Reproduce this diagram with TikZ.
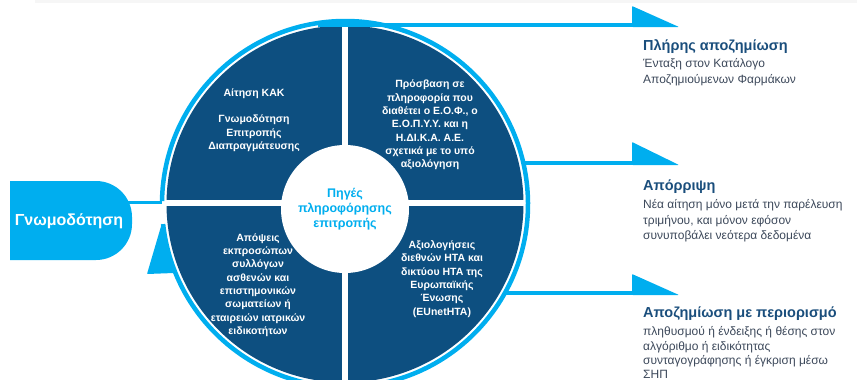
\documentclass[tikz,border=0pt]{standalone}
\usepackage{fontspec}
\setmainfont{Liberation Sans}
\definecolor{lblue}{RGB}{0,174,239}
\definecolor{dblue}{RGB}{13,79,128}
\definecolor{ttlblue}{RGB}{26,78,124}
\definecolor{desctext}{RGB}{60,72,90}
\begin{document}
\begin{tikzpicture}[x=1pt,y=-1pt,
  quadtext/.style={text=white,align=center,inner sep=0pt,font=\bfseries\fontsize{10.5}{13.3}\selectfont},
  ttl/.style={anchor=base west,inner sep=0pt,text=ttlblue,font=\bfseries\fontsize{14.5}{16}\selectfont},
  desc/.style={anchor=base west,inner sep=0pt,text=desctext,font=\fontsize{12}{14}\selectfont},
  flowline/.style={draw=lblue,line width=4pt},
  headfill/.style={fill=lblue,rounded corners=0.8pt},
  gap/.style={draw=white,line width=6pt}]
\useasboundingbox (0,0) rectangle (857,380);
\fill[gray!7] (35,0) rectangle (857,3);

\coordinate (C) at (345,204);
% dark disk
\fill[dblue] (C) circle[radius=178.5];
% white cross
\draw[gap] (345,20) -- (345,390);
\draw[gap] (160,203) -- (530,203);
% outer ring
\draw[lblue,line width=4.5pt] (C) ++(173.7:183) arc[start angle=173.7,end angle=-179.1,radius=183];
% left arrowhead on ring
\coordinate (lt) at (162,223);
\fill[lblue,rounded corners=0.8pt] (lt) -- (174,273) -- (147,274) -- cycle;

% centre circle
\node[circle,fill=white,minimum size=128pt,inner sep=0pt,text=lblue,align=center,
      font=\bfseries\fontsize{12.5}{15}\selectfont] (src) at (345,209) {Πηγές\\πληροφόρησης\\επιτροπής};

% quadrant texts
\node[quadtext] (q1) at (254,120) {Αίτηση ΚΑΚ\\[13.3pt]Γνωμοδότηση\\Επιτροπής\\Διαπραγμάτευσης};
\node[quadtext] (q2) at (430,125) {Πρόσβαση σε\\πληροφορία που\\διαθέτει ο Ε.Ο.Φ., ο\\Ε.Ο.Π.Υ.Υ. και η\\Η.ΔΙ.Κ.Α. Α.Ε.\\σχετικά με το υπό\\αξιολόγηση};
\node[quadtext] (q3) at (258,285) {Απόψεις\\εκπροσώπων\\συλλόγων\\ασθενών και\\επιστημονικών\\σωματείων ή\\εταιρειών ιατρικών\\ειδικοτήτων};
\node[quadtext] (q4) at (442,279) {Αξιολογήσεις\\διεθνών HTA και\\δικτύου HTA της\\Ευρωπαϊκής\\Ένωσης\\(EUnetHTA)};

% Gnomodotisi box
\fill[lblue] (10,181) [rounded corners=36pt] -- (132,181) -- (132,260) [sharp corners] -- (10,260) -- cycle;
\node[text=white,font=\bfseries\fontsize{16}{18}\selectfont,inner sep=0pt] (gn) at (69,221) {Γνωμοδότηση};
\coordinate (gnR) at (128,202);
\coordinate (ringL) at (162,202);
\draw[lblue,line width=3pt] (gnR) -- (ringL);

% outgoing arrows
\coordinate (a1s) at (318,25);  \coordinate (a1e) at (633,25);
\coordinate (a2s) at (522,163); \coordinate (a2e) at (633,163);
\coordinate (a3s) at (504,293); \coordinate (a3e) at (633,293);
\draw[flowline] (a1s) -- (a1e);
\draw[flowline] (a2s) -- (a2e);
\draw[flowline] (a3s) -- (a3e);
\fill[headfill] (632,6) -- (679,27) -- (632,27) -- cycle;
\fill[headfill] (632,142) -- (679,165) -- (632,165) -- cycle;
\fill[headfill] (632,274) -- (679,295) -- (632,295) -- cycle;

% outcome texts
\node[ttl] (t1) at (643,50) {Πλήρης αποζημίωση};
\node[desc] (d11) at (643,67) {Ένταξη στον Κατάλογο};
\node[desc] (d12) at (643,83) {Αποζημιούμενων Φαρμάκων};

\node[ttl] (t2) at (643,190) {Απόρριψη};
\node[desc] (d21) at (643,208) {Νέα αίτηση μόνο μετά την παρέλευση};
\node[desc] (d22) at (643,224) {τριμήνου, και μόνον εφόσον};
\node[desc] (d23) at (643,239) {συνυποβάλει νεότερα δεδομένα};

\node[ttl] (t3) at (643,317) {Αποζημίωση με περιορισμό};
\node[desc] (d31) at (643,335) {πληθυσμού ή ένδειξης ή θέσης στον};
\node[desc] (d32) at (643,350) {αλγόριθμο ή ειδικότητας};
\node[desc] (d33) at (643,364) {συνταγογράφησης ή έγκριση μέσω};
\node[desc] (d34) at (643,378) {ΣΗΠ};
\end{tikzpicture}
\end{document}
